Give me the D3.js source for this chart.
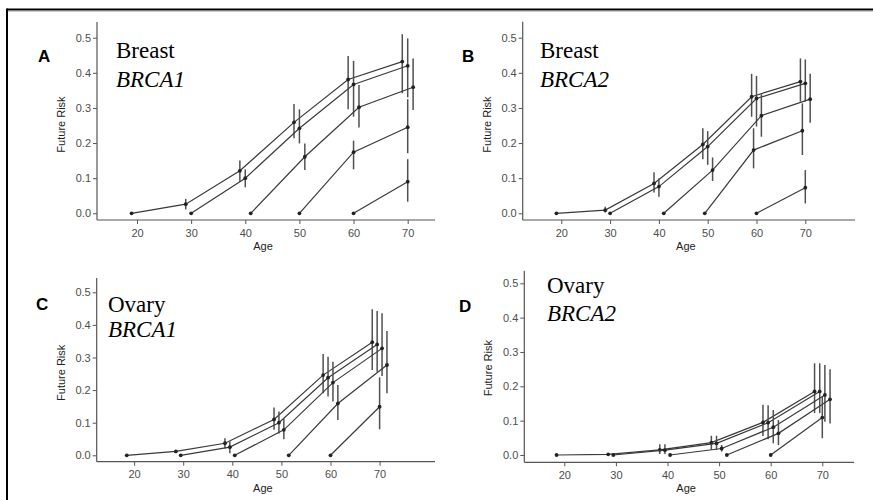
<!DOCTYPE html>
<html>
<head>
<meta charset="utf-8">
<script src="https://cdn.jsdelivr.net/npm/d3@7"></script>
<style>
  body { margin: 0; background: #fff; }
  svg { display: block; }
</style>
</head>
<body>
<script>
// start age of each curve (age at which future risk is computed from)
var startAges = [20, 30, 40, 50, 60];
var xTicks = [20, 30, 40, 50, 60, 70];
var yTicks = [0, 0.1, 0.2, 0.3, 0.4, 0.5];

// Breast, BRCA1
var riskA = [
  [0, 0.026, 0.121, 0.259, 0.381, 0.432],
  [0, 0.100, 0.242, 0.367, 0.420],
  [0, 0.161, 0.302, 0.359],
  [0, 0.174, 0.245],
  [0, 0.090]
];
var lowA = [
  [null, 0.011, 0.090, 0.214, 0.296, 0.342],
  [null, 0.074, 0.199, 0.275, 0.330],
  [null, 0.123, 0.244, 0.294],
  [null, 0.125, 0.171],
  [null, 0.033]
];
var highA = [
  [null, 0.041, 0.150, 0.311, 0.448, 0.510],
  [null, 0.125, 0.296, 0.434, 0.498],
  [null, 0.199, 0.365, 0.441],
  [null, 0.207, 0.325],
  [null, 0.154]
];

// Breast, BRCA2
var riskB = [
  [0, 0.009, 0.085, 0.196, 0.332, 0.375],
  [0, 0.076, 0.190, 0.327, 0.370],
  [0, 0.123, 0.278, 0.325],
  [0, 0.180, 0.235],
  [0, 0.073]
];
var lowB = [
  [null, 0.002, 0.059, 0.154, 0.275, 0.318],
  [null, 0.047, 0.138, 0.247, 0.318],
  [null, 0.092, 0.218, 0.258],
  [null, 0.128, 0.166],
  [null, 0.028]
];
var highB = [
  [null, 0.019, 0.117, 0.242, 0.397, 0.441],
  [null, 0.100, 0.234, 0.391, 0.438],
  [null, 0.159, 0.339, 0.397],
  [null, 0.242, 0.313],
  [null, 0.123]
];

// Ovary, BRCA1
var riskC = [
  [0, 0.012, 0.037, 0.110, 0.246, 0.347],
  [0, 0.025, 0.100, 0.238, 0.340],
  [0, 0.078, 0.223, 0.328],
  [0, 0.159, 0.277],
  [0, 0.149]
];
var lowC = [
  [null, null, 0.021, 0.078, 0.190, 0.262],
  [null, 0.006, 0.067, 0.180, 0.256],
  [null, 0.049, 0.165, 0.243],
  [null, 0.108, 0.190],
  [null, 0.080]
];
var highC = [
  [null, null, 0.052, 0.147, 0.311, 0.448],
  [null, 0.042, 0.134, 0.302, 0.443],
  [null, 0.113, 0.287, 0.436],
  [null, 0.216, 0.381],
  [null, 0.239]
];

// Ovary, BRCA2
var riskD = [
  [0, 0.002, 0.015, 0.036, 0.095, 0.185],
  [0, 0.014, 0.034, 0.094, 0.185],
  [0, 0.019, 0.081, 0.175],
  [0, 0.063, 0.162],
  [0, 0.109]
];
var lowD = [
  [null, null, 0.003, 0.015, 0.055, 0.122],
  [null, 0.003, 0.015, 0.046, 0.122],
  [null, 0.010, 0.034, 0.097],
  [null, 0.029, 0.092],
  [null, 0.049]
];
var highD = [
  [null, null, 0.031, 0.056, 0.146, 0.267],
  [null, 0.031, 0.056, 0.145, 0.267],
  [null, 0.029, 0.131, 0.262],
  [null, 0.102, 0.250],
  [null, 0.170]
];

var W = 873, H = 500;

// layout of the four panels (pixels)
var panels = [
  {letter: "A", site: "Breast", gene: "BRCA1", risk: riskA, low: lowA, high: highA,
   dodge: [-1, 0, 1, 0, 0],
   x20: 137, x70: 407.7, y0: 213.3, y5: 37.7,
   left: 97, right: 435, top: 22, bottom: 220,
   letterPos: [38, 62], sitePos: [116, 58], genePos: [116, 87]},
  {letter: "B", site: "Breast", gene: "BRCA2", risk: riskB, low: lowB, high: highB,
   dodge: [-1, 0, 1, -0.6, 0],
   x20: 561.3, x70: 805.3, y0: 213.3, y5: 37.7,
   left: 522.7, right: 855, top: 21.7, bottom: 220,
   letterPos: [462, 62], sitePos: [540, 58], genePos: [540, 87]},
  {letter: "C", site: "Ovary", gene: "BRCA1", risk: riskC, low: lowC, high: highC,
   dodge: [-1.5, -0.5, 0.5, 1.5, 0],
   x20: 134.1, x70: 379.6, y0: 455.3, y5: 292.3,
   left: 96.7, right: 435, top: 278, bottom: 461.7,
   letterPos: [36, 310], sitePos: [108, 311.5], genePos: [108, 337.3]},
  {letter: "D", site: "Ovary", gene: "BRCA2", risk: riskD, low: lowD, high: highD,
   dodge: [-1.5, -0.5, 0.5, 1.5, 0],
   x20: 564.3, x70: 822.3, y0: 455, y5: 283.3,
   left: 524.3, right: 854, top: 270.7, bottom: 462.3,
   letterPos: [459, 312], sitePos: [547, 293.3], genePos: [547, 320.7]}
];

var sans = "'Liberation Sans', Arial, Helvetica, sans-serif";
var serif = "'Liberation Serif', 'Times New Roman', Times, serif";

var svg = d3.select("body").append("svg")
  .attr("width", W)
  .attr("height", H);

// frame of the figure (only top and left edges are visible)
svg.append("line").attr("x1", 7).attr("x2", W).attr("y1", 9.5).attr("y2", 9.5)
  .attr("stroke", "#000").attr("stroke-width", 2);
svg.append("line").attr("x1", 7).attr("x2", W).attr("y1", 11.5).attr("y2", 11.5)
  .attr("stroke", "#ccc").attr("stroke-width", 1);
svg.append("line").attr("x1", 7).attr("x2", 7).attr("y1", 8.5).attr("y2", H)
  .attr("stroke", "#000").attr("stroke-width", 2);

var axisCol = "#555";

panels.forEach(function(p) {
  var g = svg.append("g");

  var x = d3.scaleLinear().domain([20, 70]).range([p.x20, p.x70]);
  var y = d3.scaleLinear().domain([0, 0.5]).range([p.y0, p.y5]);

  // axis lines
  g.append("line").attr("x1", p.left).attr("x2", p.left).attr("y1", p.top).attr("y2", p.bottom)
    .attr("stroke", axisCol).attr("stroke-width", 1.2);
  g.append("line").attr("x1", p.left).attr("x2", p.right).attr("y1", p.bottom).attr("y2", p.bottom)
    .attr("stroke", axisCol).attr("stroke-width", 1.2);

  var yAxis = d3.axisLeft(y).tickValues(yTicks).tickFormat(d3.format(".1f"))
    .tickSize(4).tickPadding(2);
  var gy = g.append("g").attr("transform", "translate(" + p.left + ",0)").call(yAxis);

  var xAxis = d3.axisBottom(x).tickValues(xTicks).tickFormat(d3.format("d"))
    .tickSize(4).tickPadding(5);
  var gx = g.append("g").attr("transform", "translate(0," + p.bottom + ")").call(xAxis);

  [gy, gx].forEach(function(a) {
    a.select(".domain").remove();
    a.selectAll(".tick line").attr("stroke", axisCol);
    a.selectAll(".tick text").attr("fill", "#4d4d4d")
      .attr("font-family", sans).attr("font-size", "11px");
  });

  // axis titles
  g.append("text")
    .attr("x", (p.left + p.right) / 2 - 3)
    .attr("y", p.bottom + 30)
    .attr("text-anchor", "middle")
    .attr("font-family", sans).attr("font-size", "11px")
    .attr("fill", "#222")
    .text("Age");
  g.append("text")
    .attr("transform", "translate(" + (p.left - 32) + "," + ((p.y0 + p.y5) / 2 - 1) + ") rotate(-90)")
    .attr("text-anchor", "middle")
    .attr("font-family", sans).attr("font-size", "11px")
    .attr("fill", "#222")
    .text("Future Risk");

  // panel letter and titles
  g.append("text").attr("x", p.letterPos[0]).attr("y", p.letterPos[1])
    .attr("font-family", sans).attr("font-size", "17px")
    .attr("font-weight", "bold").text(p.letter);
  g.append("text").attr("x", p.sitePos[0]).attr("y", p.sitePos[1])
    .attr("font-family", serif).attr("font-size", "23px")
    .text(p.site);
  g.append("text").attr("x", p.genePos[0]).attr("y", p.genePos[1])
    .attr("font-family", serif).attr("font-size", "23px")
    .attr("font-style", "italic").text(p.gene);

  // series
  p.risk.forEach(function(vals, s) {
    var pts = vals.map(function(v, i) {
      return {age: startAges[s] + i * 10 + p.dodge[s], v: v, lo: p.low[s][i], hi: p.high[s][i]};
    });

    var line = d3.line().x(function(d) { return x(d.age); }).y(function(d) { return y(d.v); });
    g.append("path").datum(pts)
      .attr("d", line)
      .attr("fill", "none")
      .attr("stroke", "#3a3a3a")
      .attr("stroke-width", 1.2);

    g.selectAll(null).data(pts.filter(function(d) { return d.lo != null; }))
      .enter().append("line")
      .attr("x1", function(d) { return x(d.age); })
      .attr("x2", function(d) { return x(d.age); })
      .attr("y1", function(d) { return y(d.lo); })
      .attr("y2", function(d) { return y(d.hi); })
      .attr("stroke", "#505050")
      .attr("stroke-width", 1.5);

    g.selectAll(null).data(pts)
      .enter().append("circle")
      .attr("cx", function(d) { return x(d.age); })
      .attr("cy", function(d) { return y(d.v); })
      .attr("r", 1.9)
      .attr("fill", "#222");
  });
});
</script>
</body>
</html>
